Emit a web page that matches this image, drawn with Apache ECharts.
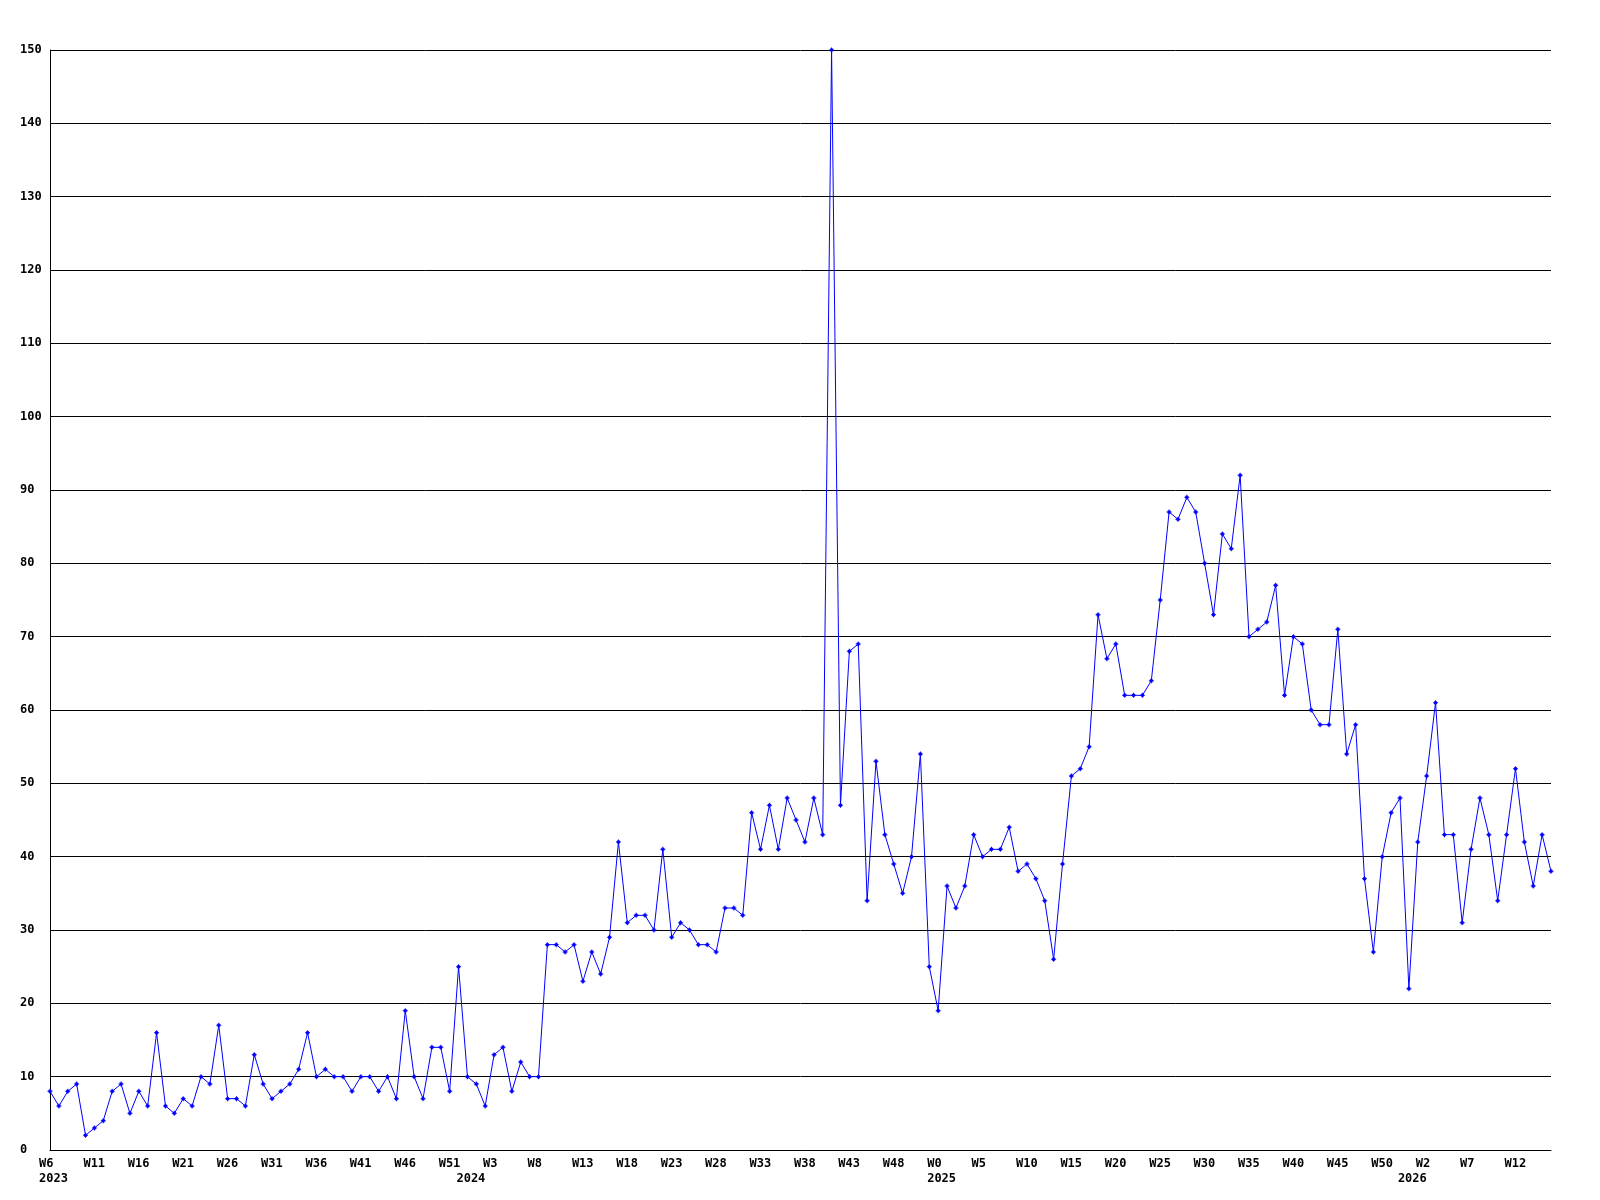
<!DOCTYPE html>
<html>
<head>
<meta charset="utf-8">
<script src="https://cdn.jsdelivr.net/npm/echarts@6/dist/echarts.min.js"></script>
<style>
html,body{margin:0;padding:0;background:#fff;}
#chart{width:1600px;height:1200px;}
</style>
</head>
<body>
<div id="chart"></div>
<script>
// Week segments: [year, firstWeek, lastWeek]
const weekSegments = [[2023, 6, 52], [2024, 0, 52], [2025, 0, 52], [2026, 0, 16]];

// Weekly values
const values2023 = [8,6,8,9,2,3,4,8,9,5,8,6,16,6,5,7,6,10,9,17,7,7,6,13,9,7,8,9,11,16,10,11,10,10,8,10,10,8,10,7,19,10,7,14,14,8,25];
const values2024 = [10,9,6,13,14,8,12,10,10,28,28,27,28,23,27,24,29,42,31,32,32,30,41,29,31,30,28,28,27,33,33,32,46,41,47,41,48,45,42,48,43,150,47,68,69,34,53,43,39,35,40,54,25];
const values2025 = [19,36,33,36,43,40,41,41,44,38,39,37,34,26,39,51,52,55,73,67,69,62,62,62,64,75,87,86,89,87,80,73,84,82,92,70,71,72,77,62,70,69,60,58,58,71,54,58,37,27,40,46,48];
const values2026 = [22,42,51,61,43,43,31,41,48,43,34,43,52,42,36,43,38];

// Y ticks
const yMin = 0, yMax = 150, yStep = 10;
const labelEvery = 5;

const categories = [];
const weekNum = [];
const yearOf = [];
weekSegments.forEach(([y, a, b]) => {
  for (let w = a; w <= b; w++) { categories.push(y + '-W' + w); weekNum.push(w); yearOf.push(y); }
});
const data = [].concat(values2023, values2024, values2025, values2026);

const chart = echarts.init(document.getElementById('chart'), null, {renderer: 'canvas'});
const font = 'DejaVu Sans Mono';
chart.setOption({
  animation: false,
  backgroundColor: '#ffffff',
  grid: {left: 50, right: 49, top: 50, bottom: 50, containLabel: false},
  xAxis: {
    type: 'category',
    data: categories,
    boundaryGap: false,
    axisLine: {show: true, lineStyle: {color: '#000', width: 1}},
    axisTick: {show: false},
    splitLine: {show: false},
    axisLabel: {
      interval: 0,
      margin: 6,
      formatter: function (v, i) {
        const isStart = (i === 0) || (i > 0 && yearOf[i] !== yearOf[i - 1]);
        let s = '';
        if (i % labelEvery === 0) s = '{w|W' + weekNum[i] + '}';
        else if (isStart) s = '{w| }';
        else return '';
        if (isStart) s += '\n{w|' + yearOf[i] + '}';
        return s;
      },
      rich: {
        w: {width: 22, align: 'left', fontFamily: font, fontWeight: 'bold', fontSize: 12, color: '#000', lineHeight: 15}
      }
    }
  },
  yAxis: {
    type: 'value',
    min: yMin, max: yMax, interval: yStep,
    axisLine: {show: true, lineStyle: {color: '#000', width: 1}},
    axisTick: {show: false},
    splitLine: {show: true, lineStyle: {color: '#000', width: 1}},
    axisLabel: {
      margin: 30, align: 'left',
      fontFamily: font, fontWeight: 'bold', fontSize: 12, color: '#000'
    }
  },
  series: [{
    type: 'line',
    data: data,
    symbol: 'path://M2,0H3V1H4V2H5V3H4V4H3V5H2V4H1V3H0V2H1V1H2Z',
    symbolSize: 5,
    showAllSymbol: true,
    lineStyle: {color: '#0000ff', width: 1},
    itemStyle: {color: '#0000ff'},
    emphasis: {disabled: true}
  }]
});
</script>
</body>
</html>
